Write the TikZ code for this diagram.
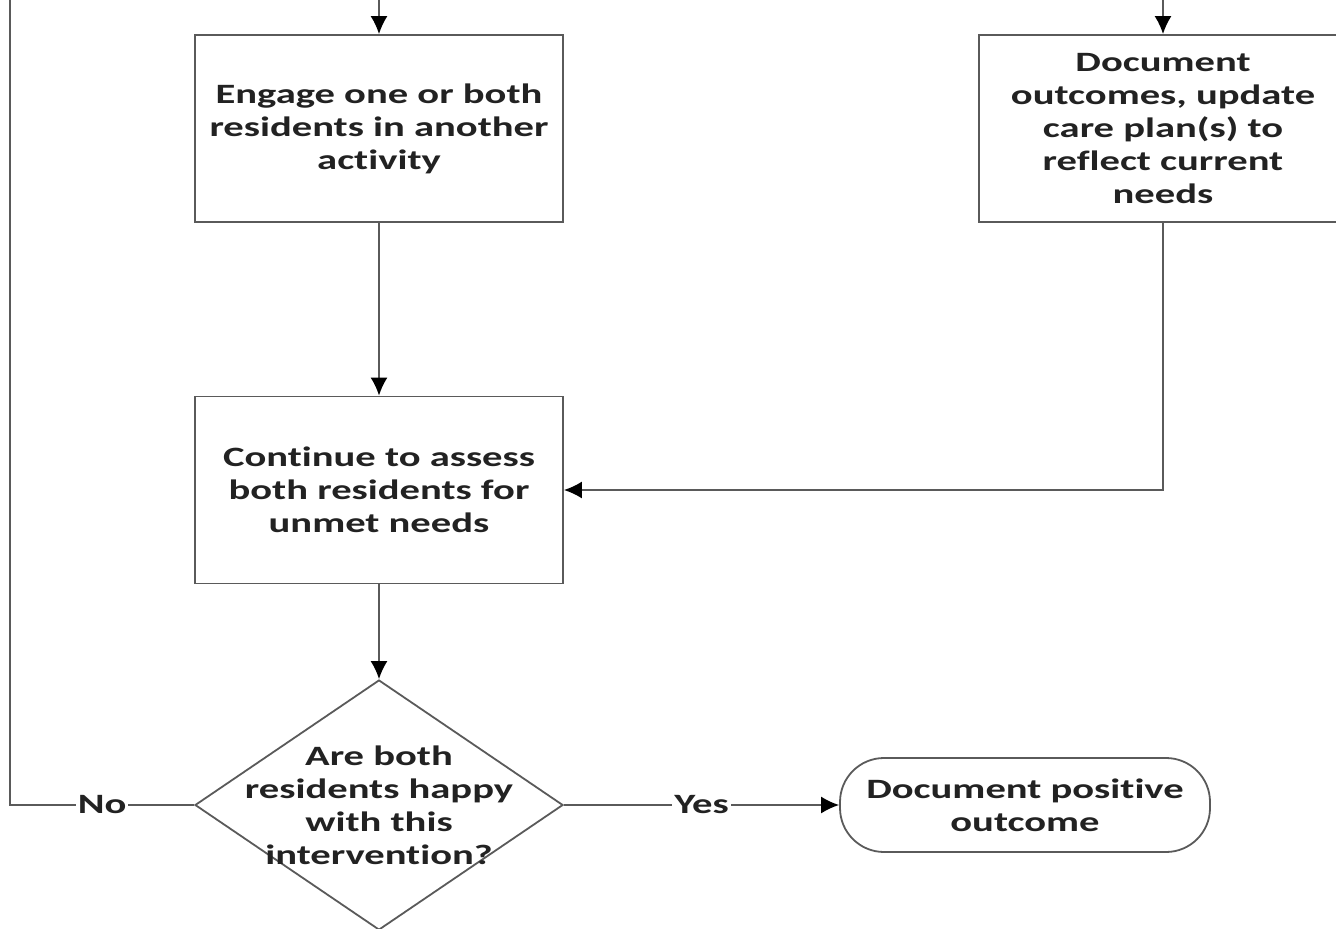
\documentclass[tikz,border=0pt]{standalone}
\usepackage{fontspec}
\setmainfont{Carlito}[FakeStretch=1.45, Ligatures=NoCommon]
\usetikzlibrary{shapes.geometric, positioning, arrows.meta}
\definecolor{edgegray}{HTML}{5A5A5A}
\definecolor{inkgray}{HTML}{222222}

\begin{document}
\begin{tikzpicture}[x=0.5pt, y=-0.5pt, line width=0.9pt, >={Latex[length=9pt,width=8.5pt,color=black]}]
    \tikzstyle{proc}=[draw=edgegray, rectangle, minimum width=184pt, minimum height=93.5pt, align=center, font=\fontsize{14}{16.5}\selectfont\bfseries, text=inkgray];
    \tikzstyle{decision}=[draw=edgegray, diamond, inner sep=0pt, minimum width=184pt, minimum height=125pt];
    \tikzstyle{txt}=[align=center, font=\fontsize{14}{16.5}\selectfont\bfseries, text=inkgray];
    \tikzstyle{term}=[draw=edgegray, rectangle, rounded corners=22pt, minimum width=185pt, minimum height=47pt, align=center, font=\fontsize{14}{16.5}\selectfont\bfseries, text=inkgray];
    \tikzstyle{lbl}=[fill=white, inner sep=1pt, font=\fontsize{14}{16.5}\selectfont\bfseries, text=inkgray];
    \useasboundingbox (0,0) rectangle (1336,929);

    \node[proc] (engage) at (379,128.5) {Engage one or both\\residents in another\\activity};
    \node[proc] (update) at (1163,128.5) {Document\\outcomes, update\\care plan(s) to\\reflect current\\needs};
    \node[proc] (assess) at (379,490) {Continue to assess\\both residents for\\unmet needs};
    \node[decision] (happy) at (379,805) {};
    \node[txt] (happytext) at (happy.center) {Are both\\residents happy\\with this\\intervention?};
    \node[term] (positive) at (1025,805) {Document positive\\outcome};

    \coordinate (engagein) at (379,0);
    \coordinate (updatein) at (1163,0);
    \coordinate (noturn) at (10,805);
    \coordinate (notop) at (10,0);

    \draw[edgegray, ->] (engagein) -- (engage);
    \draw[edgegray, ->] (updatein) -- (update);
    \draw[edgegray, ->] (engage) -- (assess);
    \draw[edgegray, ->] (update.south) |- (assess.east);
    \draw[edgegray, ->] (assess) -- (happy);
    \draw[edgegray] (happy.west) -- node[lbl] {No} (noturn) -- (notop);
    \draw[edgegray, ->] (happy.east) -- node[lbl] {Yes} (positive.west);
\end{tikzpicture}
\end{document}
